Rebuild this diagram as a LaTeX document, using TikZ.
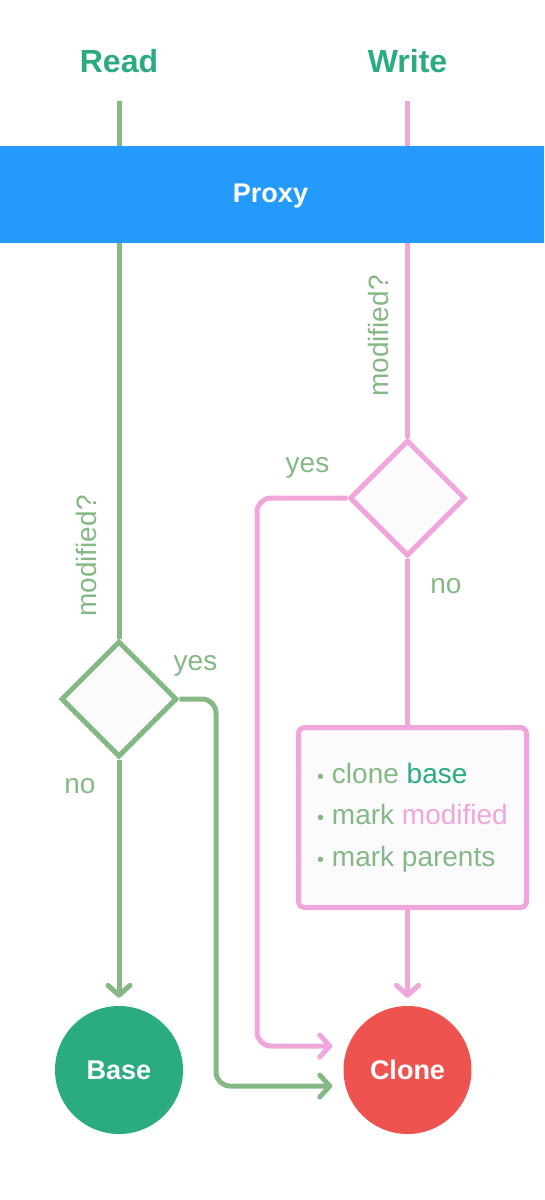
\documentclass[tikz,border=0pt]{standalone}
\usepackage{fontspec}
\setmainfont{Liberation Sans}
\usetikzlibrary{shapes.geometric,arrows.meta}
\definecolor{lg}{HTML}{86B886}
\definecolor{pk}{HTML}{F0A6DA}
\definecolor{bl}{HTML}{249AFC}
\definecolor{bg}{HTML}{2BAC7F}
\definecolor{rd}{HTML}{EF5350}
\definecolor{pale}{HTML}{FBFBFE}
\newcommand{\bul}{{\fontsize{20}{20}\selectfont •}~}
\begin{document}
\begin{tikzpicture}[x=1pt,y=-1pt,
  gl/.style={draw=lg,line width=5pt},
  pl/.style={draw=pk,line width=5pt},
  arr/.style={-{Straight Barb[length=10pt,width=22pt,round]}},
  dia/.style={diamond,aspect=1,minimum width=116pt,minimum height=116pt,inner sep=0pt,fill=pale,line width=5pt},
  circ/.style={circle,minimum size=128pt,inner sep=0pt,text=white,font=\bfseries\fontsize{27}{32}\selectfont},
  lbl/.style={text=lg,font=\fontsize{28}{33}\selectfont,inner sep=0pt},
  ttl/.style={text=bg,font=\bfseries\fontsize{32}{38}\selectfont,inner sep=0pt,anchor=base},
  flowbox/.style={draw=pk,line width=5pt,fill=pale,rounded corners=6pt,minimum width=228pt,minimum height=180pt,inner sep=0pt,align=left,text=lg,font=\fontsize{28}{41.5}\selectfont},
  band/.style={fill=bl,minimum width=544pt,minimum height=97pt,inner sep=0pt}]
\useasboundingbox (0,0) rectangle (544,1200);
% titles
\node[ttl] (read) at (119,72) {Read};
\node[ttl] (write) at (407.5,72) {Write};
% shapes
\node[dia,draw=lg] (d1) at (119,699) {};
\node[dia,draw=pk] (d2) at (407.5,498) {};
\node[flowbox] (box) at (412.5,817.5) {\bul clone \textcolor{bg}{base}\\\bul mark \textcolor{pk}{modified}\\\bul mark parents};
\node[circ,fill=bg] (base) at (119,1070) {Base};
\node[circ,fill=rd] (clone) at (407.5,1070) {Clone};
% labels
\node[lbl,anchor=base] (y1) at (195.5,670) {yes};
\node[lbl,anchor=base] (n1) at (80,793) {no};
\node[lbl,anchor=base] (y2) at (307.5,472) {yes};
\node[lbl,anchor=base] (n2) at (446,593) {no};
\node[lbl,rotate=90] (m1) at (86,556) {modified?};
\node[lbl,rotate=90] (m2) at (378,336) {modified?};
% top lines
\coordinate (rtop) at (119,101);
\coordinate (wtop) at (407.5,101);
\draw[gl] (rtop) -- (d1.north);
\draw[pl] (wtop) -- (d2.north);
% band
\node[band] (proxy) at (272,194.5) {};
\node[text=white,font=\bfseries\fontsize{27}{32}\selectfont,anchor=base,inner sep=0pt] (proxyt) at (270.5,202) {Proxy};
% flows
\draw[gl,arr,shorten >=8pt] (d1.south) -- (base.north);
\draw[pl] (d2.south) -- (d2.south |- box.north);
\draw[pl,arr,shorten >=8pt] (box.south -| clone.north) -- (clone.north);
\coordinate (gturn) at (216,1086);
\coordinate (pturn) at (257,1046);
\draw[gl,arr,rounded corners=14pt,shorten >=11pt] (d1.east) -| (gturn) -- (gturn -| clone.west);
\draw[pl,arr,rounded corners=14pt,shorten >=11pt] (d2.west) -| (pturn) -- (pturn -| clone.west);
\end{tikzpicture}
\end{document}
